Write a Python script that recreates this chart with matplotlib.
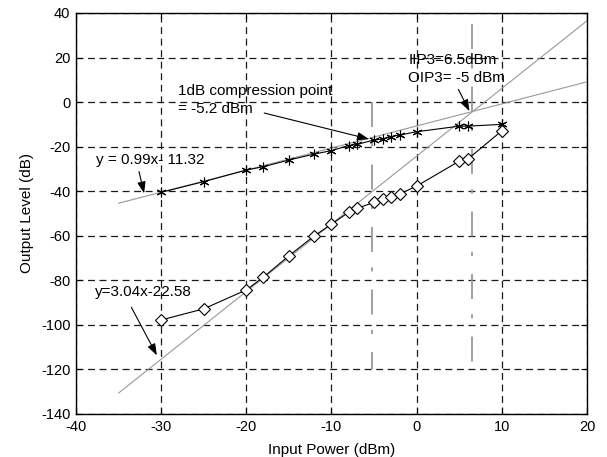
import matplotlib
matplotlib.use("Agg")
import matplotlib.pyplot as plt

plt.rcParams['font.family'] = ['Liberation Sans', 'DejaVu Sans']
plt.rcParams['axes.unicode_minus'] = False
plt.rcParams['lines.scale_dashes'] = False

# measured points (input power in dBm)
pin = [-30, -25, -20, -18, -15, -12, -10, -8, -7, -5, -4, -3, -2, 0, 5, 6, 10]
fund = [-40.5, -35.7, -30.5, -29, -26, -23.3, -21.8, -19.5, -19, -17, -16.6, -15.5,
        -14.8, -13.3, -10.8, -10.8, -10]
im3 = [-97.8, -92.8, -84.3, -78.6, -69, -60, -54.8, -49.5, -47.7, -45, -43.5, -42.5,
       -41.3, -37.7, -26.5, -25.6, -12.9]

# fitted lines as drawn (end points)
fit_x = [-35, 20]
fit_fund = [-45.4, 9.1]
fit_im3 = [-130.6, 36.5]

# markers for P1dB and IIP3
p1db_x = -5.2
iip3_x = 6.5

xticks = [-40, -30, -20, -10, 0, 10, 20]
yticks = [40, 20, 0, -20, -40, -60, -80, -100, -120, -140]

fig = plt.figure(figsize=(6.07, 4.57), dpi=100)
ax = fig.add_axes([0.1252, 0.0941, 0.8418, 0.8775])

ax.plot(fit_x, fit_fund, color='0.6', lw=0.8, zorder=2)
ax.plot(fit_x, fit_im3, color='0.6', lw=0.8, zorder=2)

vstyle = (0, (18, 11, 3, 13))
ax.plot([p1db_x, p1db_x], [0, -120], color='0.6', lw=1.3, ls=vstyle, zorder=2)
ax.plot([iip3_x, iip3_x], [35, -120], color='0.6', lw=1.3, ls=vstyle, zorder=2)

ax.plot(pin, fund, color='black', lw=0.8, marker=(6, 2, 0), ms=7, mew=0.8, zorder=3)
ax.plot(pin, im3, color='black', lw=0.8, marker='D', ms=6.5, mfc='white', mec='black',
        mew=0.8, zorder=3)

ax.set_xlim(-40, 20)
ax.set_ylim(-140, 40)
ax.set_xticks(xticks)
ax.set_yticks(yticks)
ax.grid(True, color='0.1', lw=0.9, ls=(0, (5, 3.3)))
ax.set_axisbelow(True)
ax.tick_params(direction='in', length=4, labelsize=10.5, top=True, right=True, width=0.8,
               pad=4)
for s in ax.spines.values():
    s.set_linewidth(1.0)

ax.set_xlabel('Input Power (dBm)', fontsize=11, labelpad=7)
ax.set_ylabel('Output Level (dB)', fontsize=11, labelpad=5)

arrow = dict(arrowstyle='-|>,head_length=0.7,head_width=0.25', color='black', lw=0.8,
             shrinkA=0, shrinkB=0)

fs = 11
ax.text(-28.0, 3.1, '1dB compression point', fontsize=fs, va='baseline')
ax.text(-28.0, -4.7, '= -5.2 dBm', fontsize=fs, va='baseline')
ax.annotate('', xy=(-5.6, -16.6), xytext=(-17.9, -4.9), arrowprops=arrow)

ax.text(-37.6, -27.8, 'y = 0.99x- 11.32', fontsize=fs, va='baseline')
ax.annotate('', xy=(-32.0, -41.0), xytext=(-32.6, -31.2), arrowprops=arrow)

ax.text(-1.0, 17.3, 'IIP3=6.5dBm', fontsize=fs, va='baseline')
ax.text(-1.0, 9.1, 'OIP3= -5 dBm', fontsize=fs, va='baseline')
ax.annotate('', xy=(6.2, -4.1), xytext=(4.9, 5.7), arrowprops=arrow)

ax.text(-37.8, -87.0, 'y=3.04x-22.58', fontsize=fs, va='baseline')
ax.annotate('', xy=(-30.5, -113.7), xytext=(-33.5, -92.1), arrowprops=arrow)

fig.savefig('out.png', dpi=100)
